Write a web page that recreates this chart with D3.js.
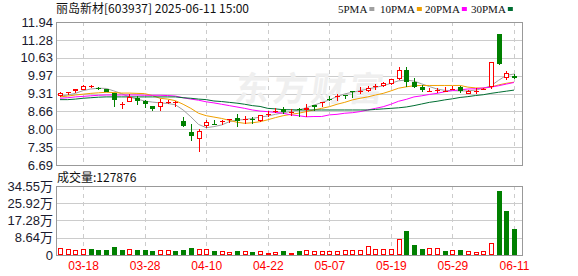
<!DOCTYPE html>
<html>
<head>
<meta charset="utf-8">
<script src="https://cdn.jsdelivr.net/npm/d3@7"></script>
<style>
  body { margin: 0; background: #fff; }
  svg text { font-family: "Liberation Sans", Arial, sans-serif; }
</style>
</head>
<body>
<div id="chart"></div>
<script>
// daily data, 2025-03-13 .. 2025-06-11
var dates = ["2025-03-13","2025-03-14","2025-03-17","2025-03-18","2025-03-19","2025-03-20","2025-03-21","2025-03-24","2025-03-25","2025-03-26",
  "2025-03-27","2025-03-28","2025-03-31","2025-04-01","2025-04-02","2025-04-03","2025-04-07","2025-04-08","2025-04-09","2025-04-10",
  "2025-04-11","2025-04-14","2025-04-15","2025-04-16","2025-04-17","2025-04-18","2025-04-21","2025-04-22","2025-04-23","2025-04-24",
  "2025-04-25","2025-04-28","2025-04-29","2025-04-30","2025-05-06","2025-05-07","2025-05-08","2025-05-09","2025-05-12","2025-05-13",
  "2025-05-14","2025-05-15","2025-05-16","2025-05-19","2025-05-20","2025-05-21","2025-05-22","2025-05-23","2025-05-26","2025-05-27",
  "2025-05-28","2025-05-29","2025-05-30","2025-06-03","2025-06-04","2025-06-05","2025-06-06","2025-06-09","2025-06-10","2025-06-11"];

var opens = [9.21,9.35,9.41,9.45,9.57,9.52,9.48,9.32,8.92,8.99,9.16,9.04,8.86,8.83,8.99,8.96,8.31,7.89,7.64,8.13,
  8.21,8.26,8.37,8.40,8.36,8.38,8.30,8.54,8.67,8.73,8.64,8.75,8.70,8.89,8.98,9.13,9.19,9.27,9.39,9.40,
  9.41,9.56,9.59,9.66,9.85,10.18,9.73,9.55,9.40,9.42,9.40,9.47,9.57,9.30,9.40,9.48,9.54,11.51,9.87,9.96];
var highs = [9.38,9.37,9.48,9.61,9.63,9.56,9.49,9.34,9.01,9.29,9.23,9.08,8.86,9.10,9.08,9.04,8.46,8.19,8.00,8.34,
  8.34,8.33,8.39,8.56,8.48,8.44,8.52,8.67,8.77,8.81,8.76,8.77,8.93,8.89,8.99,9.21,9.30,9.27,9.39,9.54,
  9.60,9.65,9.72,9.85,10.30,10.27,9.87,9.63,9.53,9.51,9.57,9.59,9.58,9.45,9.53,9.53,10.46,11.51,10.15,10.04];
var lows = [9.19,9.26,9.33,9.45,9.53,9.44,9.36,8.81,8.75,8.99,8.89,8.79,8.66,8.68,8.92,8.83,8.08,7.56,7.15,8.06,
  8.18,8.16,8.24,8.07,8.18,8.20,8.26,8.46,8.59,8.56,8.49,8.46,8.46,8.68,8.83,9.05,9.05,9.11,9.16,9.29,
  9.38,9.45,9.56,9.62,9.82,9.57,9.51,9.38,9.40,9.35,9.40,9.44,9.32,9.28,9.30,9.45,9.48,10.35,9.81,9.86];
var closes = [9.33,9.36,9.48,9.60,9.58,9.50,9.37,9.08,8.93,9.20,9.05,8.93,8.75,8.99,9.01,8.99,8.13,7.77,7.94,8.26,
  8.19,8.32,8.38,8.31,8.37,8.35,8.52,8.55,8.68,8.64,8.65,8.72,8.79,8.81,8.99,9.12,9.23,9.25,9.37,9.42,
  9.53,9.58,9.70,9.85,10.18,9.73,9.55,9.43,9.41,9.43,9.41,9.48,9.41,9.42,9.41,9.49,10.46,10.40,10.08,9.87];

// volume in 万 (10k shares), 1 = up day (red), 0 = down day (green)
var volumes = [3.3,2.8,2.3,2.8,2.8,2.5,2.5,4.0,2.5,3.2,2.5,2.5,2.0,2.7,2.3,2.0,2.5,3.5,2.8,2.8,
  2.0,1.8,1.3,2.0,2.0,1.5,1.8,1.0,1.5,2.0,1.0,2.0,2.3,2.0,2.0,2.0,2.0,2.3,2.3,2.3,
  4.3,2.8,2.8,2.8,7.8,12.0,5.0,3.0,3.3,3.3,2.0,2.3,2.3,1.8,1.5,1.8,6.0,32.0,22.0,12.7876];
var volUp = [1,1,1,1,0,0,0,0,0,1,0,0,0,1,1,0,0,0,1,1,
  0,1,1,0,1,0,1,1,1,0,1,0,1,1,1,1,1,1,1,1,
  1,1,1,1,1,0,0,0,1,1,0,1,0,1,1,1,1,0,0,0];

// moving averages as drawn
var ma5 = [9.21,9.26,9.32,9.42,9.48,9.51,9.50,9.41,9.31,9.19,9.11,9.04,9.00,8.97,8.95,8.90,8.71,8.46,8.18,8.06,
  8.10,8.16,8.28,8.34,8.36,8.40,8.45,8.49,8.55,8.61,8.65,8.71,8.79,8.89,8.98,9.08,9.20,9.30,9.36,9.42,
  9.48,9.54,9.60,9.69,9.78,9.81,9.77,9.67,9.57,9.48,9.43,9.42,9.41,9.41,9.44,9.50,9.60,9.80,9.98,10.03];
var ma10 = [9.19,9.22,9.26,9.29,9.32,9.34,9.36,9.35,9.33,9.33,9.32,9.31,9.24,9.14,9.11,9.05,8.92,8.77,8.59,8.50,
  8.45,8.40,8.33,8.26,8.22,8.24,8.28,8.35,8.43,8.50,8.55,8.59,8.65,8.71,8.77,8.83,8.92,8.99,9.08,9.14,
  9.19,9.26,9.32,9.41,9.51,9.56,9.60,9.61,9.61,9.61,9.61,9.61,9.61,9.55,9.52,9.51,9.55,9.63,9.69,9.73];
var ma20 = [9.14,9.16,9.19,9.21,9.23,9.25,9.26,9.26,9.26,9.26,9.26,9.25,9.25,9.25,9.24,9.22,9.16,9.11,9.07,9.01,
  8.97,8.92,8.87,8.82,8.77,8.71,8.67,8.65,8.62,8.59,8.53,8.50,8.46,8.47,8.47,8.53,8.55,8.59,8.61,8.65,
  8.71,8.77,8.83,8.92,9.03,9.10,9.19,9.23,9.28,9.32,9.38,9.42,9.45,9.48,9.49,9.52,9.55,9.60,9.66,9.72];
var ma30 = [9.09,9.09,9.11,9.14,9.16,9.18,9.19,9.19,9.19,9.19,9.19,9.19,9.19,9.19,9.19,9.19,9.16,9.14,9.11,9.09,
  9.04,9.02,8.99,8.96,8.92,8.87,8.84,8.77,8.75,8.72,8.72,8.71,8.71,8.71,8.71,8.71,8.71,8.71,8.71,8.71,
  8.71,8.73,8.75,8.77,8.79,8.82,8.87,8.93,8.99,9.03,9.08,9.12,9.17,9.20,9.24,9.27,9.32,9.36,9.40,9.44];

var priceTicks = [6.69, 7.35, 8.00, 8.66, 9.31, 9.97, 10.63, 11.28, 11.94];
var volTicks = [0, 8.64, 17.28, 25.92, 34.55];
var dateTicks = ["2025-03-18","2025-03-28","2025-04-10","2025-04-22","2025-05-07","2025-05-19","2025-05-29","2025-06-11"];

var maNames = ["5PMA", "10PMA", "20PMA", "30PMA"];
var maColors = ["#a0a0a0", "#f0a000", "#ff00ff", "#006e32"];

var svgWidth = 578;
var svgHeight = 276;
var RED = "#ff0000";
var GREEN = "#008000";

var plotLeft = 56, plotRight = 522;
var priceTop = 22, priceBottom = 165;
var volTop = 186, volBottom = 255;

var svg = d3.select("#chart")
  .append("svg")
  .attr("width", svgWidth)
  .attr("height", svgHeight);

var x = d3.scalePoint()
  .domain(dates)
  .range([60, 514]);

var yPrice = d3.scaleLinear()
  .domain([priceTicks[0], priceTicks[priceTicks.length - 1]])
  .range([priceBottom, priceTop]);

var yVol = d3.scaleLinear()
  .domain([0, volTicks[volTicks.length - 1]])
  .range([volBottom, volTop]);

function px(v) { return Math.round(v) + 0.5; }

// grids
function drawGrid(yScale, ticks, top, bottom) {
  var g = svg.append("g");
  g.selectAll("line.h")
    .data(ticks.slice(1, -1))
    .enter()
    .append("line")
    .attr("x1", plotLeft).attr("x2", plotRight)
    .attr("y1", d => px(yScale(d))).attr("y2", d => px(yScale(d)))
    .attr("stroke", "#cccccc");
  g.selectAll("line.v")
    .data(dateTicks)
    .enter()
    .append("line")
    .attr("x1", d => px(x(d))).attr("x2", d => px(x(d)))
    .attr("y1", top).attr("y2", bottom)
    .attr("stroke", "#cccccc")
    .attr("stroke-dasharray", "4,4");
  g.append("rect")
    .attr("x", plotLeft + 0.5).attr("y", top + 0.5)
    .attr("width", plotRight - plotLeft).attr("height", bottom - top)
    .attr("fill", "none")
    .attr("stroke", "#999999");
}
drawGrid(yPrice, priceTicks, priceTop, priceBottom);
drawGrid(yVol, volTicks, volTop, volBottom);

// watermark
svg.append("text")
  .attr("x", 312).attr("y", 101)
  .attr("text-anchor", "middle")
  .attr("transform", "skewX(-8) translate(12,0)")
  .style("font-family", "'Noto Sans CJK SC'")
  .style("font-size", "34px")
  .style("font-weight", "bold")
  .style("letter-spacing", "4px")
  .attr("fill", "#efefef")
  .text("东方财富");

// axes
var leftAxis = d3.axisLeft(yPrice)
  .tickValues(priceTicks)
  .tickFormat(d3.format(".2f"))
  .tickSize(0)
  .tickPadding(3);

svg.append("g")
  .attr("transform", `translate(${plotLeft}, 0)`)
  .call(leftAxis)
  .call(g => g.select(".domain").remove())
  .selectAll("text")
  .style("font-family", "'Liberation Sans'")
  .style("font-size", "13px")
  .attr("fill", "#1a1a2e");

var volAxis = d3.axisLeft(yVol)
  .tickValues(volTicks)
  .tickFormat(d => d === 0 ? "0" : d3.format(".2f")(d) + "万")
  .tickSize(0)
  .tickPadding(3);

svg.append("g")
  .attr("transform", `translate(${plotLeft}, 0)`)
  .call(volAxis)
  .call(g => g.select(".domain").remove())
  .selectAll("text")
  .style("font-family", "'Liberation Sans', 'Noto Sans CJK SC'")
  .style("font-size", "13px")
  .attr("fill", "#1a1a2e");

var bottomAxis = d3.axisBottom(x)
  .tickValues(dateTicks)
  .tickFormat(d => d.slice(5))
  .tickSize(0)
  .tickPadding(6);

svg.append("g")
  .attr("transform", `translate(0, ${volBottom})`)
  .call(bottomAxis)
  .call(g => g.select(".domain").remove())
  .selectAll("text")
  .style("font-family", "'Liberation Sans'")
  .style("font-size", "12px")
  .attr("fill", RED);

// moving averages
var maSeries = [ma5, ma10, ma20, ma30];
var maLine = d3.line()
  .x((d, i) => x(dates[i]))
  .y(d => yPrice(d));

svg.append("g")
  .selectAll("path")
  .data(maSeries)
  .enter()
  .append("path")
  .attr("d", d => maLine(d))
  .attr("fill", "none")
  .attr("stroke", (d, i) => maColors[i])
  .attr("stroke-width", 1);

// candles
var candleGroup = svg.append("g");
dates.forEach(function(d, i) {
  var cx = Math.round(x(d));
  var o = opens[i], c = closes[i];
  var up = c >= o;
  var color = up ? RED : GREEN;
  var yH = yPrice(highs[i]), yL = yPrice(lows[i]);
  var top = Math.round(yPrice(Math.max(o, c)));
  var bot = Math.round(yPrice(Math.min(o, c)));

  if (up) {
    if (top > Math.round(yH)) {
      candleGroup.append("line")
        .attr("x1", cx + 0.5).attr("x2", cx + 0.5)
        .attr("y1", Math.round(yH)).attr("y2", top)
        .attr("stroke", color);
    }
    if (Math.round(yL) > bot) {
      candleGroup.append("line")
        .attr("x1", cx + 0.5).attr("x2", cx + 0.5)
        .attr("y1", bot).attr("y2", Math.round(yL))
        .attr("stroke", color);
    }
    if (bot - top < 2) {
      candleGroup.append("line")
        .attr("x1", cx - 2).attr("x2", cx + 3)
        .attr("y1", top + 0.5).attr("y2", top + 0.5)
        .attr("stroke", color);
    } else {
      candleGroup.append("rect")
        .attr("x", cx - 1.5).attr("y", top + 0.5)
        .attr("width", 4).attr("height", bot - top - 1)
        .attr("fill", "#fff")
        .attr("stroke", color);
    }
  } else {
    candleGroup.append("line")
      .attr("x1", cx + 0.5).attr("x2", cx + 0.5)
      .attr("y1", Math.round(yH)).attr("y2", Math.round(yL))
      .attr("stroke", color);
    candleGroup.append("rect")
      .attr("x", cx - 2).attr("y", top)
      .attr("width", 5).attr("height", Math.max(1, bot - top))
      .attr("fill", color);
  }
});

// volume bars
var volGroup = svg.append("g");
dates.forEach(function(d, i) {
  var cx = Math.round(x(d));
  var top = Math.round(yVol(volumes[i]));
  if (volUp[i]) {
    volGroup.append("rect")
      .attr("x", cx - 1.5).attr("y", top + 0.5)
      .attr("width", 4).attr("height", Math.max(1, volBottom - top - 1))
      .attr("fill", "#fff")
      .attr("stroke", RED);
  } else {
    volGroup.append("rect")
      .attr("x", cx - 2).attr("y", top)
      .attr("width", 5).attr("height", volBottom - top)
      .attr("fill", GREEN);
  }
});

// title + legend
svg.append("text")
  .attr("x", 56).attr("y", 13)
  .style("font-family", "'Noto Sans CJK SC'")
  .style("font-size", "12px")
  .attr("fill", "#111")
  .text("丽岛新材[603937] 2025-06-11 15:00");

svg.append("text")
  .attr("x", 57).attr("y", 182)
  .style("font-family", "'Noto Sans CJK SC'")
  .style("font-size", "12px")
  .attr("fill", "#111")
  .text("成交量:" + Math.round(volumes[volumes.length - 1] * 10000));

var legendX = [338, 380, 425, 471];
var legend = svg.append("g");
maNames.forEach(function(name, i) {
  var t = legend.append("text")
    .attr("x", legendX[i]).attr("y", 13)
    .style("font-family", "'Liberation Serif'")
    .style("font-size", "11px")
    .attr("fill", "#111")
    .text(name);
  var w = t.node().getComputedTextLength();
  legend.append("rect")
    .attr("x", legendX[i] + w + 2).attr("y", 7)
    .attr("width", 5).attr("height", 4)
    .attr("fill", maColors[i]);
});
</script>
</body>
</html>
